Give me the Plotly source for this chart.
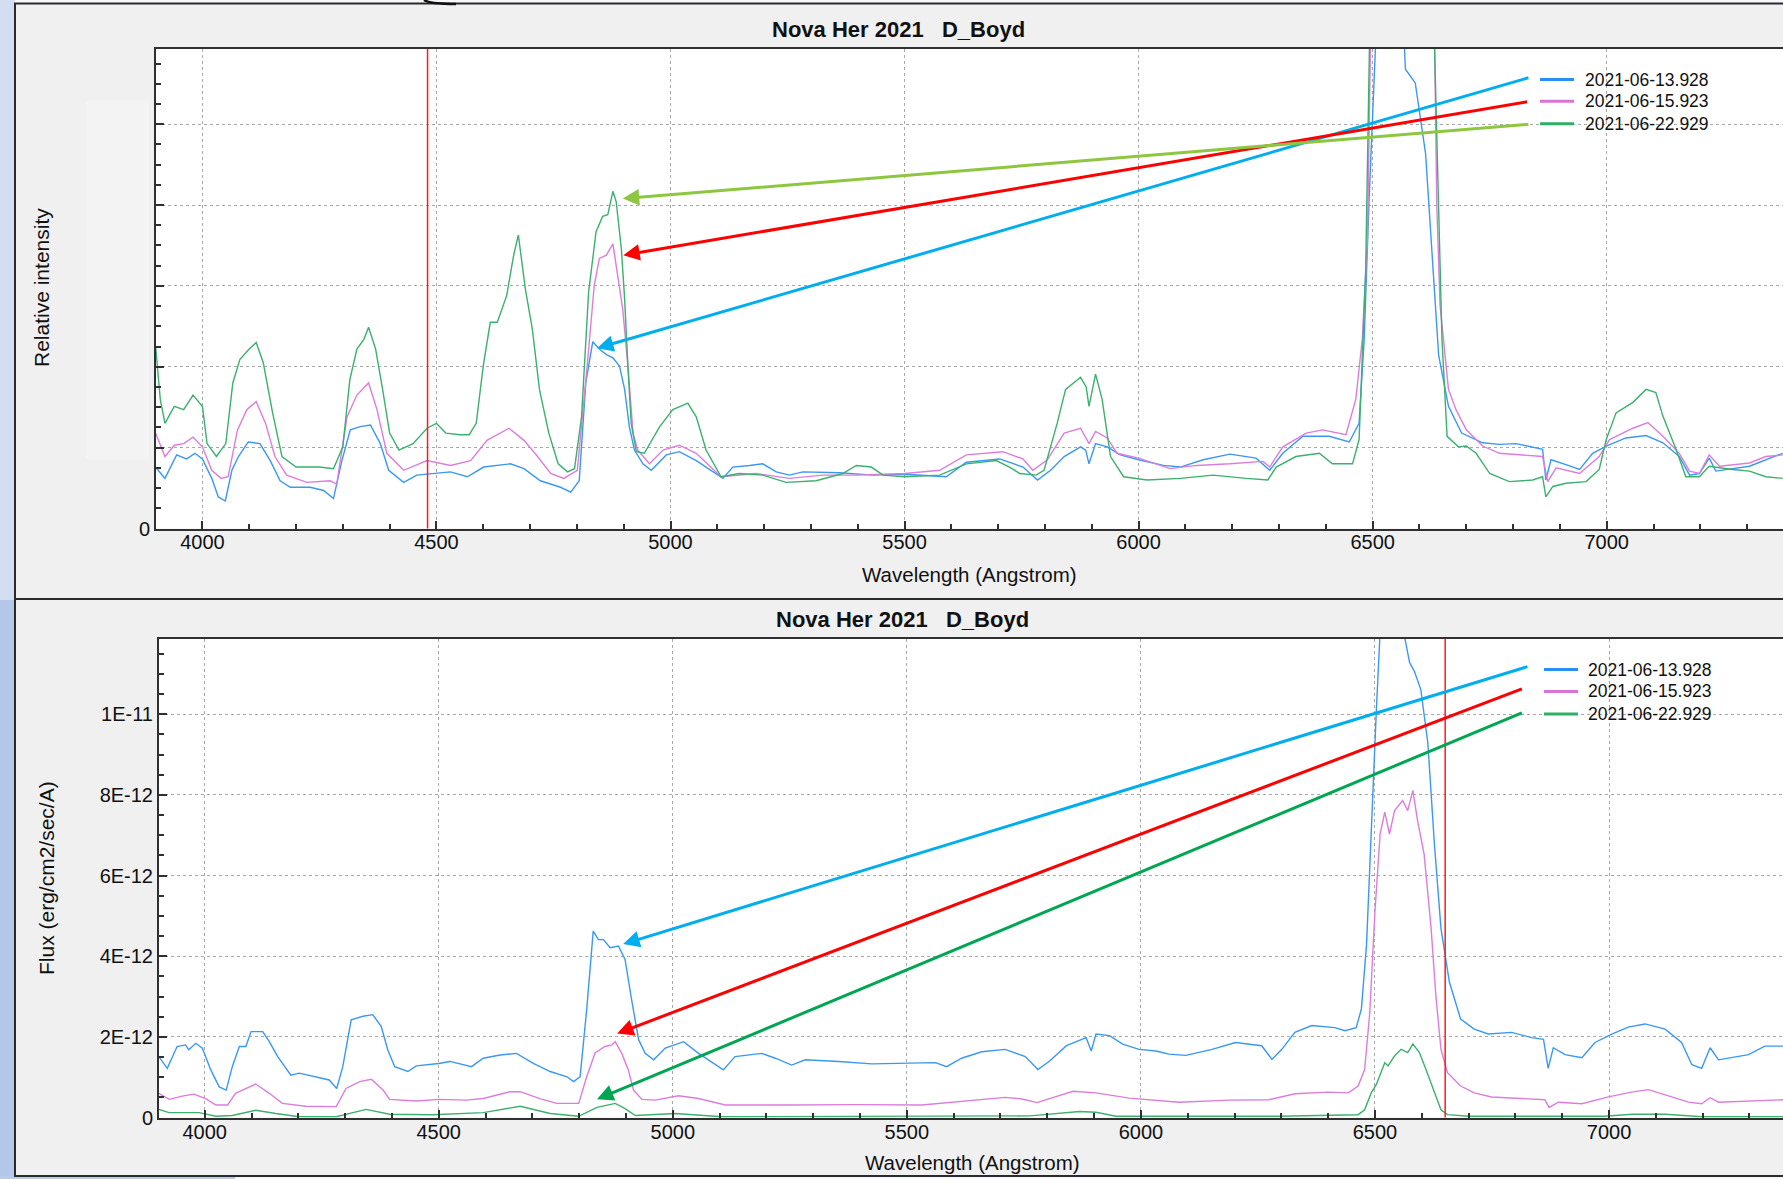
import plotly.graph_objects as go

# ---------------- DATA ----------------
series_names = ["2021-06-13.928", "2021-06-15.923", "2021-06-22.929"]

top_blue_wl = [3900, 3920, 3945, 3966, 3984, 4000, 4020, 4034, 4049, 4063, 4077, 4098, 4123, 4145, 4166, 4188, 4230, 4259, 4280, 4298,
               4316, 4337, 4359, 4380, 4398, 4430, 4458, 4501, 4530, 4566, 4601, 4658, 4687, 4722, 4765, 4787, 4805, 4819, 4834, 4848,
               4863, 4877, 4891, 4902, 4912, 4923, 4941, 4959, 4991, 5019, 5055, 5112, 5133, 5169, 5197, 5226, 5254, 5283, 5361, 5432,
               5500, 5589, 5632, 5703, 5753, 5784, 5812, 5841, 5876, 5887, 5894, 5908, 5933, 5961, 6000, 6053, 6089, 6138, 6195, 6251,
               6280, 6308, 6351, 6407, 6450, 6471, 6482, 6492, 6503, 6515, 6540, 6560, 6570, 6591, 6613, 6627, 6641, 6662, 6690, 6735,
               6771, 6806, 6863, 6870, 6881, 6913, 6942, 6970, 6999, 7041, 7084, 7120, 7155, 7177, 7198, 7219, 7233, 7305, 7340, 7376]
top_blue_val = [0.76, 0.62, 0.91, 0.86, 0.93, 0.86, 0.62, 0.39, 0.34, 0.72, 0.89, 1.07, 1.05, 0.84, 0.59, 0.51, 0.51, 0.47, 0.37, 0.84,
                1.22, 1.26, 1.28, 1.05, 0.72, 0.57, 0.66, 0.68, 0.70, 0.64, 0.76, 0.80, 0.74, 0.59, 0.51, 0.45, 0.59, 1.80, 2.31, 2.22,
                2.15, 2.11, 2.01, 1.72, 1.26, 0.97, 0.80, 0.72, 0.91, 0.95, 0.84, 0.62, 0.76, 0.78, 0.80, 0.70, 0.66, 0.70, 0.69, 0.66,
                0.67, 0.64, 0.82, 0.86, 0.76, 0.60, 0.72, 0.89, 1.01, 0.97, 0.80, 1.05, 1.01, 0.91, 0.85, 0.78, 0.76, 0.85, 0.92, 0.87,
                0.72, 0.93, 1.14, 1.14, 1.07, 1.30, 2.35, 4.01, 5.68, 7.20, 7.60, 7.00, 5.68, 5.51, 4.64, 3.39, 2.14, 1.51, 1.18, 1.06,
                1.04, 1.05, 0.98, 0.60, 0.85, 0.79, 0.73, 0.93, 1.02, 1.12, 1.15, 1.06, 0.89, 0.66, 0.68, 0.87, 0.71, 0.77, 0.85, 0.93]

top_pink_wl = [3900, 3920, 3940, 3960, 3980, 4000, 4020, 4040, 4055, 4075, 4095, 4115, 4135, 4155, 4180, 4223, 4273, 4287, 4309, 4330,
               4355, 4373, 4394, 4430, 4480, 4530, 4573, 4608, 4655, 4687, 4716, 4744, 4772, 4801, 4822, 4837, 4848, 4863, 4877, 4887,
               4898, 4909, 4920, 4930, 4955, 4984, 5019, 5055, 5108, 5183, 5254, 5326, 5397, 5500, 5575, 5632, 5710, 5753, 5774, 5805,
               5841, 5876, 5894, 5908, 5933, 5954, 6000, 6067, 6124, 6195, 6266, 6280, 6308, 6358, 6393, 6443, 6464, 6478, 6489, 6498,
               6510, 6620, 6630, 6637, 6644, 6662, 6678, 6700, 6735, 6771, 6863, 6874, 6892, 6942, 6984, 7006, 7056, 7088, 7120, 7155,
               7177, 7198, 7219, 7241, 7305, 7340, 7376]
top_pink_val = [1.18, 0.89, 1.03, 1.05, 1.13, 1.01, 0.72, 0.62, 0.64, 1.22, 1.47, 1.57, 1.30, 0.89, 0.66, 0.57, 0.59, 0.55, 1.38, 1.65,
                1.80, 1.47, 0.93, 0.72, 0.84, 0.78, 0.84, 1.09, 1.24, 1.09, 0.89, 0.68, 0.62, 0.72, 2.01, 3.00, 3.34, 3.38, 3.52, 3.13,
                2.71, 2.01, 1.18, 0.97, 0.80, 0.97, 1.03, 0.93, 0.64, 0.68, 0.62, 0.66, 0.66, 0.68, 0.72, 0.91, 0.95, 0.86, 0.72, 0.85,
                1.18, 1.24, 1.05, 1.20, 1.12, 0.93, 0.87, 0.74, 0.78, 0.80, 0.83, 0.76, 1.01, 1.18, 1.22, 1.16, 1.60, 2.35, 3.60, 7.00,
                14.0, 14.0, 7.00, 4.00, 2.76, 1.72, 1.47, 1.22, 1.02, 0.93, 0.89, 0.58, 0.75, 0.68, 0.89, 1.10, 1.24, 1.31, 1.14, 0.93,
                0.71, 0.68, 0.91, 0.77, 0.81, 0.89, 0.91]

top_green_wl = [3900, 3910, 3920, 3940, 3960, 3980, 4000, 4010, 4030, 4050, 4065, 4080, 4100, 4115, 4130, 4150, 4170, 4200, 4250, 4280,
                4300, 4315, 4330, 4345, 4355, 4370, 4385, 4400, 4420, 4450, 4480, 4500, 4520, 4550, 4570, 4585, 4600, 4615, 4630, 4650,
                4665, 4675, 4690, 4705, 4720, 4740, 4760, 4780, 4795, 4810, 4825, 4841, 4855, 4866, 4877, 4884, 4895, 4902, 4909, 4916,
                4927, 4944, 4977, 5005, 5037, 5055, 5076, 5108, 5147, 5197, 5247, 5311, 5368, 5397, 5429, 5454, 5500, 5575, 5632, 5696,
                5724, 5746, 5781, 5798, 5826, 5844, 5876, 5888, 5894, 5908, 5922, 5940, 5968, 6018, 6089, 6159, 6230, 6276, 6294, 6336,
                6386, 6414, 6457, 6471, 6485, 6496, 6505, 6622, 6632, 6648, 6659, 6683, 6700, 6721, 6750, 6792, 6842, 6863, 6870, 6885,
                6913, 6956, 6984, 6999, 7020, 7056, 7084, 7105, 7120, 7148, 7169, 7198, 7219, 7269, 7305, 7340, 7376]
top_green_val = [2.26, 1.60, 1.30, 1.51, 1.47, 1.65, 1.51, 1.05, 0.89, 1.05, 1.80, 2.09, 2.22, 2.30, 2.05, 1.43, 0.89, 0.76, 0.76, 0.74,
                 1.01, 1.84, 2.22, 2.34, 2.49, 2.22, 1.72, 1.18, 0.97, 1.05, 1.24, 1.30, 1.18, 1.16, 1.16, 1.30, 2.01, 2.55, 2.55, 2.88,
                 3.38, 3.63, 2.96, 2.46, 1.72, 1.18, 0.80, 0.70, 0.74, 1.38, 2.92, 3.67, 3.86, 3.88, 4.17, 4.04, 3.46, 2.84, 2.01, 1.30,
                 0.95, 0.93, 1.26, 1.47, 1.55, 1.38, 0.97, 0.64, 0.68, 0.66, 0.57, 0.59, 0.68, 0.78, 0.76, 0.66, 0.64, 0.66, 0.80, 0.84,
                 0.76, 0.68, 0.66, 0.72, 1.30, 1.72, 1.87, 1.75, 1.51, 1.91, 1.60, 0.89, 0.64, 0.60, 0.62, 0.66, 0.62, 0.60, 0.76, 0.89,
                 0.93, 0.80, 0.80, 1.10, 3.18, 7.00, 10.0, 10.0, 6.00, 2.35, 1.14, 1.01, 1.02, 0.93, 0.68, 0.58, 0.60, 0.64, 0.39, 0.52,
                 0.56, 0.58, 0.73, 1.10, 1.43, 1.56, 1.72, 1.68, 1.39, 0.98, 0.64, 0.64, 0.77, 0.73, 0.71, 0.64, 0.62]

bot_blue_wl = [3902, 3920, 3941, 3959, 3966, 3981, 3995, 4013, 4031, 4046, 4059, 4074, 4088, 4099, 4124, 4138, 4156, 4184, 4202, 4238,
               4266, 4282, 4295, 4313, 4338, 4359, 4377, 4391, 4406, 4434, 4452, 4500, 4524, 4570, 4595, 4631, 4666, 4702, 4738, 4774,
               4788, 4802, 4816, 4830, 4841, 4852, 4866, 4884, 4898, 4912, 4927, 4941, 4959, 4984, 5023, 5055, 5108, 5133, 5190, 5219,
               5254, 5283, 5354, 5425, 5500, 5561, 5585, 5617, 5660, 5710, 5753, 5780, 5805, 5841, 5883, 5894, 5904, 5933, 5961, 5996,
               6032, 6060, 6096, 6152, 6202, 6258, 6280, 6301, 6329, 6365, 6414, 6436, 6460, 6471, 6482, 6492, 6503, 6515, 6540, 6556,
               6563, 6574, 6584, 6598, 6613, 6627, 6641, 6659, 6683, 6712, 6742, 6792, 6835, 6860, 6870, 6881, 6906, 6942, 6970, 7006,
               7041, 7077, 7120, 7155, 7177, 7198, 7216, 7234, 7298, 7333, 7372]
bot_blue_val = [1.51, 1.22, 1.76, 1.80, 1.68, 1.84, 1.72, 1.18, 0.76, 0.68, 1.26, 1.76, 1.76, 2.13, 2.13, 1.88, 1.51, 1.05, 1.10, 1.01,
                0.93, 0.72, 1.26, 2.42, 2.51, 2.55, 2.26, 1.68, 1.26, 1.14, 1.28, 1.34, 1.39, 1.26, 1.47, 1.55, 1.59, 1.34, 1.14, 1.01,
                0.89, 1.01, 2.67, 4.62, 4.41, 4.41, 4.21, 4.25, 3.92, 2.92, 1.93, 1.59, 1.43, 1.72, 1.88, 1.59, 1.18, 1.51, 1.59, 1.47,
                1.30, 1.43, 1.39, 1.33, 1.34, 1.36, 1.26, 1.47, 1.63, 1.69, 1.51, 1.19, 1.40, 1.78, 1.98, 1.65, 2.07, 2.03, 1.82, 1.69,
                1.65, 1.57, 1.54, 1.69, 1.86, 1.78, 1.44, 1.69, 2.11, 2.28, 2.23, 2.15, 2.23, 2.69, 4.28, 7.19, 10.11, 13.0, 13.5, 13.0,
                11.94, 11.28, 11.07, 10.61, 9.28, 6.78, 4.69, 3.36, 2.44, 2.19, 2.07, 2.11, 1.98, 1.94, 1.22, 1.73, 1.56, 1.48, 1.86, 2.07,
                2.24, 2.32, 2.19, 1.86, 1.31, 1.22, 1.73, 1.43, 1.56, 1.77, 1.77]

bot_pink_wl = [3902, 3924, 3952, 3977, 4002, 4024, 4049, 4066, 4109, 4138, 4166, 4216, 4281, 4302, 4331, 4356, 4381, 4395, 4452, 4502,
               4559, 4595, 4652, 4674, 4716, 4752, 4799, 4816, 4834, 4855, 4870, 4877, 4891, 4905, 4916, 4934, 4962, 5012, 5055, 5112,
               5247, 5390, 5532, 5603, 5710, 5746, 5778, 5855, 5904, 5975, 6081, 6188, 6273, 6329, 6400, 6443, 6464, 6478, 6489, 6500,
               6511, 6521, 6531, 6542, 6559, 6570, 6581, 6591, 6605, 6620, 6630, 6641, 6655, 6683, 6712, 6749, 6835, 6863, 6872, 6892,
               6942, 6999, 7048, 7084, 7134, 7170, 7198, 7216, 7234, 7298, 7372]
bot_pink_val = [0.60, 0.45, 0.53, 0.58, 0.47, 0.31, 0.31, 0.60, 0.83, 0.60, 0.35, 0.28, 0.27, 0.72, 0.89, 0.95, 0.68, 0.45, 0.41, 0.45,
                0.43, 0.47, 0.64, 0.64, 0.47, 0.35, 0.35, 1.01, 1.60, 1.76, 1.80, 1.88, 1.59, 1.18, 0.68, 0.45, 0.43, 0.54, 0.47, 0.31,
                0.31, 0.32, 0.31, 0.39, 0.50, 0.46, 0.37, 0.65, 0.61, 0.48, 0.38, 0.43, 0.44, 0.59, 0.63, 0.61, 0.78, 1.19, 2.61, 5.11,
                7.03, 7.57, 7.03, 7.61, 7.86, 7.61, 8.11, 7.36, 6.53, 4.69, 3.03, 1.69, 1.11, 0.78, 0.61, 0.51, 0.46, 0.44, 0.25, 0.38,
                0.34, 0.51, 0.63, 0.69, 0.51, 0.38, 0.34, 0.49, 0.38, 0.41, 0.44]

bot_green_wl = [3902, 3924, 3988, 4024, 4059, 4109, 4152, 4202, 4281, 4345, 4395, 4488, 4595, 4674, 4738, 4799, 4838, 4877, 4898, 4920,
                5005, 5105, 5763, 5869, 5904, 5947, 6294, 6464, 6478, 6492, 6503, 6521, 6528, 6542, 6556, 6570, 6581, 6595, 6609, 6627,
                6641, 6655, 6700, 6990, 7050, 7120, 7200, 7372]
bot_green_val = [0.20, 0.12, 0.12, 0.03, 0.05, 0.18, 0.10, 0.02, 0.02, 0.20, 0.08, 0.07, 0.12, 0.28, 0.10, 0.03, 0.25, 0.35, 0.22, 0.05,
                 0.10, 0.02, 0.04, 0.15, 0.13, 0.03, 0.03, 0.07, 0.19, 0.61, 0.82, 1.36, 1.28, 1.53, 1.69, 1.61, 1.82, 1.61, 1.19, 0.61,
                 0.19, 0.07, 0.03, 0.03, 0.08, 0.08, 0.02, 0.02]

top_cursor_wl = 4481
bot_cursor_wl = 6650

top_arrows = [(4843, 2.23, 6836, 5.58, "#00aeef"),
              (4899, 3.38, 6833, 5.28, "#ff0000"),
              (4898, 4.08, 6836, 5.00, "#8dc63f")]
bot_arrows = [(4894, 4.30, 6829, 11.19, "#00aeef"),
              (4881, 2.08, 6817, 10.64, "#ff0000"),
              (4838, 0.45, 6817, 10.05, "#00a651")]

bot_ytick_vals = [0, 2, 4, 6, 8, 10]
bot_ytick_text = ["0", "2E-12", "4E-12", "6E-12", "8E-12", "1E-11"]
top_ytick_vals = [0, 1, 2, 3, 4, 5]

E12 = 1e-12

# ---------------- STYLE / LAYOUT ----------------
W, H = 1783, 1179
COLORS = ["#3a98f2", "#dc7ddc", "#3cb06e"]
LEG_COLORS = ["#2a8ff5", "#d873d8", "#2fae66"]
FONT = "Arial, Liberation Sans, sans-serif"


def px(x):
    return x / W


def py(y):
    return 1 - y / H


fig = go.Figure()

top_series = [(top_blue_wl, top_blue_val), (top_pink_wl, top_pink_val), (top_green_wl, top_green_val)]
bot_series = [(bot_blue_wl, bot_blue_val), (bot_pink_wl, bot_pink_val), (bot_green_wl, bot_green_val)]

for i, (wl, v) in enumerate(top_series):
    fig.add_trace(go.Scatter(x=wl, y=v, mode="lines", name=series_names[i], showlegend=False,
                             line=dict(color=COLORS[i], width=1.4), xaxis="x", yaxis="y"))
for i, (wl, v) in enumerate(bot_series):
    fig.add_trace(go.Scatter(x=wl, y=[a * E12 for a in v], mode="lines", name=series_names[i], showlegend=False,
                             line=dict(color=COLORS[i], width=1.4), xaxis="x2", yaxis="y2"))

axis_common = dict(showline=True, linecolor="#303030", linewidth=2, mirror=True, automargin=False,
                   ticks="inside", ticklen=8, tickwidth=1.5, tickcolor="#303030",
                   showgrid=True, gridcolor="#a8a8a8", griddash="dot", gridwidth=1,
                   zeroline=False, tickfont=dict(family=FONT, size=20, color="#111"))

fig.update_layout(
    width=W, height=H, autosize=False, margin=dict(l=0, r=0, t=0, b=0, pad=0, autoexpand=False),
    paper_bgcolor="#f0f0f0", plot_bgcolor="white", showlegend=False,
    xaxis=dict(domain=[px(156), 1], range=[3900.9, 7376.6], anchor="y", dtick=500, tick0=4000,
               ticklabelstandoff=-6,
               minor=dict(dtick=100, tick0=4000, ticks="inside", ticklen=5, tickcolor="#303030", showgrid=False),
               **axis_common),
    yaxis=dict(domain=[py(528.5), py(49)], range=[0, 5.93], anchor="x", tickmode="array",
               tickvals=top_ytick_vals, ticktext=["0", "", "", "", "", ""],
               minor=dict(tickmode="linear", tick0=0, dtick=0.25, ticks="inside", ticklen=5,
                          tickcolor="#303030", showgrid=False),
               **axis_common),
    xaxis2=dict(domain=[px(159), 1], range=[3902.4, 7371.7], anchor="y2", dtick=500, tick0=4000,
                ticklabelstandoff=-5,
                minor=dict(dtick=100, tick0=4000, ticks="inside", ticklen=5, tickcolor="#303030", showgrid=False),
                **axis_common),
    yaxis2=dict(domain=[py(1117.5), py(638.8)], range=[0, 11.87 * E12], anchor="x2", tickmode="array",
                tickvals=[v * E12 for v in bot_ytick_vals], ticktext=bot_ytick_text,
                minor=dict(tickmode="linear", tick0=0, dtick=0.5 * E12, ticks="inside", ticklen=5,
                           tickcolor="#303030", showgrid=False),
                **axis_common),
)

shapes = []
shapes.append(dict(type="rect", xref="paper", yref="paper", x0=0, x1=1, y0=py(3.5), y1=1,
                   fillcolor="#f6f8fb", line_width=0, layer="below"))
shapes.append(dict(type="rect", xref="paper", yref="paper", x0=0, x1=px(15), y0=py(600), y1=1,
                   fillcolor="#d3dff1", line_width=0, layer="below"))
shapes.append(dict(type="rect", xref="paper", yref="paper", x0=0, x1=px(15), y0=0, y1=py(600),
                   fillcolor="#b3c7e9", line_width=0, layer="below"))
shapes.append(dict(type="rect", xref="paper", yref="paper", x0=0, x1=px(235), y0=0, y1=py(1176),
                   fillcolor="#b8cbea", line_width=0, layer="below"))
shapes.append(dict(type="rect", xref="paper", yref="paper", x0=px(235), x1=1, y0=0, y1=py(1176),
                   fillcolor="#f6f8fc", line_width=0, layer="below"))
shapes.append(dict(type="rect", xref="paper", yref="paper", x0=px(86), x1=px(149), y0=py(459), y1=py(101),
                   fillcolor="#f3f3f3", line_width=0, layer="below"))
for yy in (3.5, 599, 1176):
    shapes.append(dict(type="line", xref="paper", yref="paper", x0=px(14), x1=1, y0=py(yy), y1=py(yy),
                       line=dict(color="#2a2a2a", width=2), layer="below"))
shapes.append(dict(type="line", xref="paper", yref="paper", x0=px(15), x1=px(15), y0=py(1176), y1=py(3.5),
                   line=dict(color="#2a2a2a", width=2), layer="below"))
# small dark curve at the top edge of the window
shapes.append(dict(type="path", xref="paper", yref="paper",
                   path=f"M {px(424):.5f},{py(0):.5f} Q {px(430):.5f},{py(4):.5f} {px(456):.5f},{py(4):.5f}",
                   line=dict(color="#111", width=2.5), layer="above"))
shapes.append(dict(type="line", xref="x", yref="y domain", x0=top_cursor_wl, x1=top_cursor_wl, y0=0, y1=1,
                   line=dict(color="#ff1a1a", width=1.5), layer="above"))
shapes.append(dict(type="line", xref="x2", yref="y2 domain", x0=bot_cursor_wl, x1=bot_cursor_wl, y0=0, y1=1,
                   line=dict(color="#ff1a1a", width=1.5), layer="above"))

annotations = []
for rows, x0, x1, xt in (([79.6, 101.3, 123.8], 1540, 1574, 1583), ([669.6, 691.4, 714.0], 1544, 1578, 1586)):
    for i, yy in enumerate(rows):
        shapes.append(dict(type="line", xref="paper", yref="paper", x0=px(x0), x1=px(x1), y0=py(yy), y1=py(yy),
                           line=dict(color=LEG_COLORS[i], width=3), layer="above"))
        annotations.append(dict(xref="paper", yref="paper", x=px(xt), y=py(yy), text=series_names[i],
                                showarrow=False, xanchor="left", yanchor="middle",
                                font=dict(family=FONT, size=17.5, color="#111")))

for (tx, ty) in ((898, 29.5), (902, 619.5)):
    annotations.append(dict(xref="paper", yref="paper", x=px(tx), y=py(ty), text="<b>Nova Her 2021   D_Boyd</b>",
                            showarrow=False, xanchor="center", yanchor="middle",
                            font=dict(family=FONT, size=22, color="#111")))
for (tx, ty) in ((969, 574), (972, 1162)):
    annotations.append(dict(xref="paper", yref="paper", x=px(tx), y=py(ty), text="Wavelength (Angstrom)",
                            showarrow=False, xanchor="center", yanchor="middle",
                            font=dict(family=FONT, size=20.5, color="#111")))
annotations.append(dict(xref="paper", yref="paper", x=px(42), y=py(288), text="Relative intensity", textangle=-90,
                        showarrow=False, xanchor="center", yanchor="middle",
                        font=dict(family=FONT, size=21, color="#111")))
annotations.append(dict(xref="paper", yref="paper", x=px(46), y=py(878), text="Flux (erg/cm2/sec/A)", textangle=-90,
                        showarrow=False, xanchor="center", yanchor="middle",
                        font=dict(family=FONT, size=21, color="#111")))

for (hx, hy, tx, ty, c) in top_arrows:
    annotations.append(dict(x=hx, y=hy, ax=tx, ay=ty, xref="x", yref="y", axref="x", ayref="y", text="",
                            showarrow=True, arrowhead=2, arrowsize=1.1, arrowwidth=3, arrowcolor=c))
for (hx, hy, tx, ty, c) in bot_arrows:
    annotations.append(dict(x=hx, y=hy * E12, ax=tx, ay=ty * E12, xref="x2", yref="y2", axref="x2", ayref="y2",
                            text="", showarrow=True, arrowhead=2, arrowsize=1.1, arrowwidth=3, arrowcolor=c))

fig.update_layout(shapes=shapes, annotations=annotations)

fig.write_html("out.html", config={"displayModeBar": False},
               post_script="document.body.style.margin='0';document.body.style.overflow='hidden';")
